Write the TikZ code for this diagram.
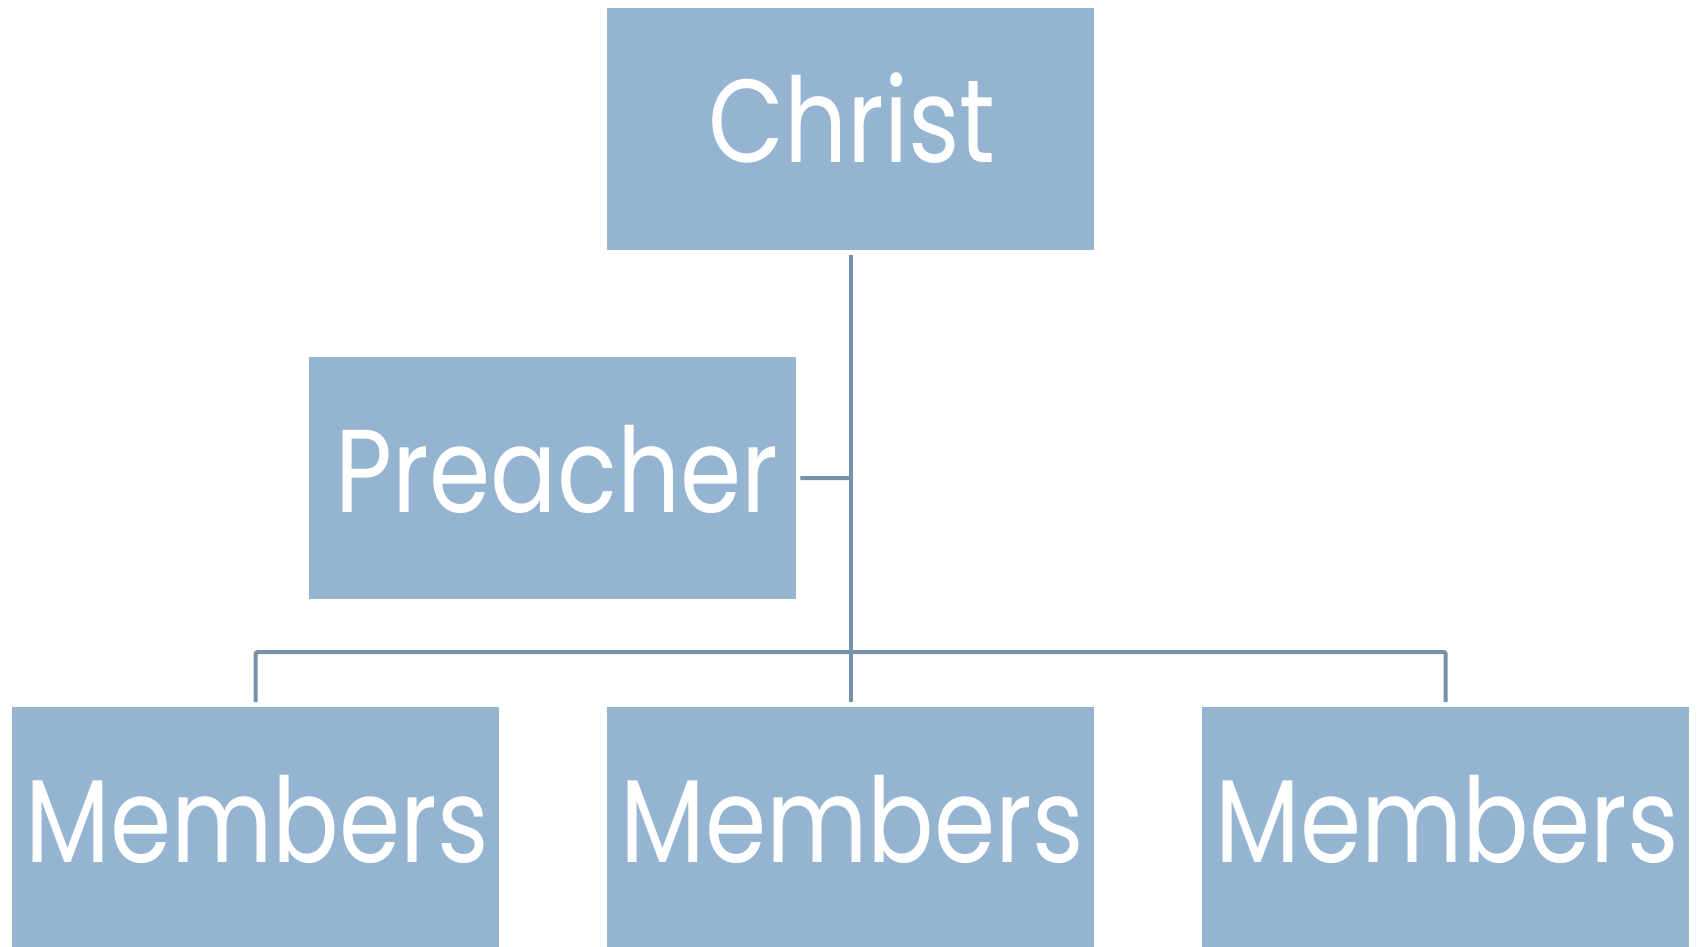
\documentclass[tikz,border=0pt]{standalone}
\usepackage{fontspec}
\setmainfont{Poppins}
\definecolor{boxfill}{HTML}{95B4D1}
\definecolor{linec}{HTML}{7591AB}
\newcommand{\narrow}[1]{\scalebox{0.835}[1]{#1}}
\tikzset{
  box/.style={fill=boxfill, draw=none, inner sep=0pt, minimum width=487pt, minimum height=242pt, anchor=north west},
  lbl/.style={text=white, inner sep=0pt, font=\fontsize{118}{118}\selectfont, anchor=base},
  conn/.style={draw=linec, line width=4pt}
}
\begin{document}
\begin{tikzpicture}[x=1pt,y=-1pt]
\useasboundingbox (0,0) rectangle (1698,946);
\clip (0,0) rectangle (1698,946);
\node[box] (christ) at (607,8) {};
\node[box] (preacher) at (309,357) {};
\node[box, minimum height=250pt] (m1) at (12,707) {};
\node[box, minimum height=250pt] (m2) at (607,707) {};
\node[box, minimum height=250pt] (m3) at (1202,707) {};
\node[lbl] (christT) at (852,162) {\narrow{Christ}};
\node[lbl] (preacherT) at (557,512) {\narrow{Preacher}};
\node[lbl] (m1T) at (257,862) {\narrow{Members}};
\node[lbl] (m2T) at (852,862) {\narrow{Members}};
\node[lbl] (m3T) at (1447,862) {\narrow{Members}};
\coordinate (top) at ([yshift=-5pt]christ.south);
\coordinate (bus) at (851,652);
\coordinate (pj) at (851,478);
\draw[conn] (top) -- ([yshift=5pt]m2.north);
\draw[conn] ([xshift=4pt]preacher.east) -- (pj);
\draw[conn, rounded corners=2pt] ([yshift=5pt]m1.north) -- (m1.north |- bus) -- (m3.north |- bus) -- ([yshift=5pt]m3.north);
\end{tikzpicture}
\end{document}
